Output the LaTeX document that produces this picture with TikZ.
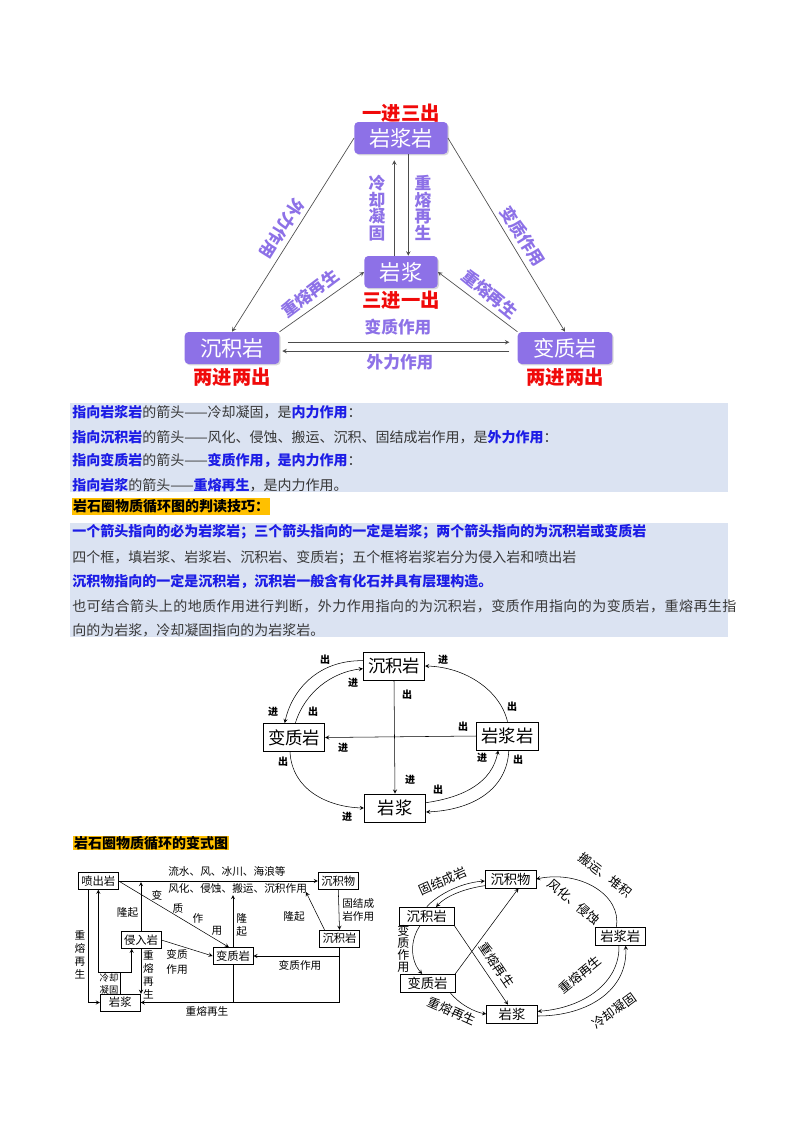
\documentclass[tikz,border=0pt]{standalone}
\usepackage{fontspec}
\setmainfont{Noto Sans CJK SC}
\usetikzlibrary{shadows}

\definecolor{rockpurple}{RGB}{141,113,231}
\definecolor{tagred}{RGB}{240,10,10}
\definecolor{notebg}{RGB}{219,227,242}
\definecolor{noteblue}{RGB}{28,28,230}
\definecolor{notegray}{RGB}{55,55,55}
\definecolor{headorange}{RGB}{255,192,0}

\newcommand{\keyword}[1]{{\bfseries\color{noteblue}#1}}

\tikzset{
  rock/.style={fill=rockpurple, rounded corners=3pt, text=white,
    font=\fontsize{16}{18}\selectfont, minimum height=24pt, inner sep=2pt,
    drop shadow={shadow xshift=1pt, shadow yshift=-1pt, opacity=0.3}},
  tagtext/.style={text=tagred, font=\bfseries\fontsize{14.5}{16}\selectfont, inner sep=0pt},
  proc/.style={text=rockpurple, font=\bfseries\fontsize{12.5}{12.5}\selectfont,
    inner sep=0pt, align=center},
  flow/.style={->, draw=black!70, line width=0.5pt},
  noteline/.style={anchor=west, inner sep=0pt, text=notegray,
    font=\fontsize{10.5}{12}\selectfont},
  cellbox/.style={draw, line width=0.6pt, font=\fontsize{13}{15}\selectfont,
    minimum width=46pt, minimum height=21pt, inner sep=1pt},
  io/.style={font=\bfseries\fontsize{7.5}{8}\selectfont, inner sep=0pt},
  smallbox/.style={draw, line width=0.5pt, font=\fontsize{8.5}{10}\selectfont,
    minimum width=30pt, minimum height=12.5pt, inner sep=1pt},
  smalltxt/.style={font=\fontsize{8}{9.75}\selectfont, inner sep=0pt, align=center},
  ovalbox/.style={draw, line width=0.5pt, font=\fontsize{10}{12}\selectfont,
    minimum width=38pt, minimum height=13.5pt, inner sep=1pt},
  ovaltxt/.style={font=\fontsize{9.5}{9.5}\selectfont, inner sep=0pt, align=center},
}

\begin{document}
\begin{tikzpicture}[x=0.75pt, y=-0.75pt, >=stealth]
  \useasboundingbox (0,0) rectangle (800,1132);

  % Triângulo do ciclo
  \node[rock, minimum width=70pt] (ycy) at (401,138) {岩浆岩};
  \node[rock, minimum width=55pt] (yj)  at (401,272) {岩浆};
  \node[rock, minimum width=71pt] (cjy) at (232,348) {沉积岩};
  \node[rock, minimum width=71pt] (bzy) at (565,348) {变质岩};

  \node[tagtext] (t1) at (401,113) {一进三出};
  \node[tagtext] (t2) at (401,300) {三进一出};
  \node[tagtext] (t3) at (232,377) {两进两出};
  \node[tagtext] (t4) at (565,377) {两进两出};

  \draw[flow] (ycy.west) -- (cjy.north);
  \draw[flow] (ycy.east) -- (bzy.north);
  \draw[flow, shorten >=4.5pt] ([xshift=-5pt]yj.north) -- ([xshift=-5pt]ycy.south);
  \draw[flow] ([xshift=5.5pt]ycy.south) -- ([xshift=5.5pt]yj.north);
  \draw[flow] (cjy.north east) -- (yj.west);
  \draw[flow] (bzy.north west) -- (yj.east);
  \draw[flow, shorten <=6pt, shorten >=6pt] ([yshift=4.3pt]cjy.east) -- ([yshift=4.3pt]bzy.west);
  \draw[flow, shorten <=6pt, shorten >=2pt] ([yshift=-2.3pt]bzy.west) -- ([yshift=-2.3pt]cjy.east);

  \node[proc, rotate=-122] (p1) at (282,229) {外力作用};
  \node[proc, rotate=-58]  (p2) at (523,236) {变质作用};
  \node[proc] (p3) at (377,208) {冷\\却\\凝\\固};
  \node[proc] (p4) at (423,208) {重\\熔\\再\\生};
  \node[proc, rotate=37]  (p5) at (310,293) {重熔再生};
  \node[proc, rotate=-39] (p6) at (490,294) {重熔再生};
  \node[proc] (p7) at (398,327) {变质作用};
  \node[proc] (p8) at (400,362) {外力作用};

  % Quadros de texto
  \fill[notebg] (70,403) rectangle (728,492);
  \node[noteline] (n1) at (72,412) {\keyword{指向岩浆岩}的箭头——冷却凝固，是\keyword{内力作用}：};
  \node[noteline] (n2) at (72,437) {\keyword{指向沉积岩}的箭头——风化、侵蚀、搬运、沉积、固结成岩作用，是\keyword{外力作用}：};
  \node[noteline] (n3) at (72,461) {\keyword{指向变质岩}的箭头——\keyword{变质作用，是内力作用}：};
  \node[noteline] (n4) at (72,485) {\keyword{指向岩浆}的箭头——\keyword{重熔再生}，是内力作用。};

  \node[fill=headorange, anchor=west, inner xsep=1pt, inner ysep=0pt, minimum height=12.75pt,
    font=\bfseries\fontsize{10.5}{12}\selectfont] (h1) at (71.5,506.7) {岩石圈物质循环图的判读技巧：};

  \fill[notebg] (70,523) rectangle (728,637);
  \node[noteline] (m1) at (72,532) {\keyword{一个箭头指向的必为岩浆岩；三个箭头指向的一定是岩浆；两个箭头指向的为沉积岩或变质岩}};
  \node[noteline] (m2) at (72,558) {四个框，填岩浆、岩浆岩、沉积岩、变质岩；五个框将岩浆岩分为侵入岩和喷出岩};
  \node[noteline] (m3) at (72,582) {\keyword{沉积物指向的一定是沉积岩，沉积岩一般含有化石并具有层理构造。}};
  \node[noteline] (m4) at (72,606) {\addfontfeature{LetterSpace=3.2}也可结合箭头上的地质作用进行判断，外力作用指向的为沉积岩，变质作用指向的为变质岩，重熔再生指};
  \node[noteline] (m5) at (72,630) {向的为岩浆，冷却凝固指向的为岩浆岩。};

  % Ciclo com entradas e saídas
  \node[cellbox] (cjy2) at (394,666)   {沉积岩};
  \node[cellbox] (bzy2) at (294,737.5) {变质岩};
  \node[cellbox] (ycy2) at (507.5,736) {岩浆岩};
  \node[cellbox] (yj2)  at (395,808)   {岩浆};

  \draw[->] (cjy2.south) -- (yj2.north);
  \draw[->] (ycy2.west) -- (bzy2.east);
  \draw[->] (ycy2.north) .. controls (500,690) and (465,667) .. (cjy2.east);
  \draw[->] ([yshift=4pt]cjy2.west) .. controls (318,660) and (292,690) .. ([xshift=-7pt]bzy2.north);
  \draw[->] ([xshift=1pt]bzy2.north) .. controls (305,692) and (332,672) .. ([yshift=-2pt]cjy2.west);
  \draw[->] ([xshift=-3pt]bzy2.south) .. controls (292,790) and (328,807) .. (yj2.west);
  \draw[->] ([yshift=4pt]yj2.east) .. controls (465,797) and (492,782) .. ([xshift=-7pt]ycy2.south);
  \draw[->] ([xshift=1pt]ycy2.south) .. controls (507,790) and (472,810) .. ([yshift=-3pt]yj2.east);

  \node[io] at (407,695) {出};  \node[io] at (410,780) {进};
  \node[io] at (463,727) {出};  \node[io] at (343,748) {进};
  \node[io] at (512,707) {出};  \node[io] at (443,660) {进};
  \node[io] at (325,660) {出};  \node[io] at (273,712) {进};
  \node[io] at (313,712) {出};  \node[io] at (353,683) {进};
  \node[io] at (283,762) {出};  \node[io] at (347,817) {进};
  \node[io] at (438,790) {出};  \node[io] at (482,758) {进};
  \node[io] at (518,760) {出};

  \node[fill=headorange, anchor=west, inner xsep=1pt, inner ysep=0pt, minimum height=10pt,
    font=\bfseries\fontsize{10.5}{12}\selectfont] (h2) at (72.5,843.3) {岩石圈物质循环的变式图};

  % Variante com cinco quadros
  \node[smallbox] (pcy)  at (98.3,881)   {喷出岩};
  \node[smallbox] (cjw)  at (338.3,881)  {沉积物};
  \node[smallbox] (cjy3) at (339.5,938.5){沉积岩};
  \node[smallbox] (qry)  at (141,940)    {侵入岩};
  \node[smallbox] (bzy3) at (233,956)    {变质岩};
  \node[smallbox] (yj3)  at (120.3,1002.5){岩浆};

  \coordinate (lq1) at (306,892);
  \coordinate (lq2) at (141,882);
  \coordinate (lq3) at (233,895);

  \draw[->] (pcy.east) -- (cjw.west);
  \draw[->] (cjw.south) -- (cjy3.north);
  \draw[->] ([xshift=4pt]cjy3.north west) -- (lq1);
  \draw[->] (pcy.east) -- ([xshift=-3pt]bzy3.north);
  \draw[->] (qry.north) -- (lq2);
  \draw[->] (bzy3.north) -- (lq3);
  \draw[->] (qry.east) -- (bzy3.west);
  \draw[->] (qry.south) -- (qry.south |- yj3.north);
  \draw (yj3.north) -- ++(0,-22) coordinate (lqn);
  \draw[->] (lqn) -| (pcy.south);
  \draw[->] (lqn) -| ([xshift=-7pt]qry.south);
  \draw[->] ([xshift=-7.5pt]pcy.south) |- (yj3.west);
  \draw[->] (cjy3.south) |- (yj3.east);
  \draw[->] (cjy3.south |- bzy3.east) -- (bzy3.east);
  \draw (bzy3.south) -- (bzy3.south |- yj3.east);

  \node[smalltxt, anchor=west] at (168,871) {流水、风、冰川、海浪等};
  \node[smalltxt, anchor=west] at (168,888.5) {风化、侵蚀、搬运、沉积作用};
  \node[smalltxt, anchor=west, align=left] at (342,910) {固结成\\岩作用};
  \node[smalltxt] at (294,916) {隆起};
  \node[smalltxt] at (127.5,912) {隆起};
  \node[smalltxt] at (241.7,925) {隆\\起};
  \node[smalltxt] at (157,895) {变};
  \node[smalltxt] at (178,908) {质};
  \node[smalltxt] at (198,918.5) {作};
  \node[smalltxt] at (217,931) {用};
  \node[smalltxt, font=\fontsize{8}{11}\selectfont] at (177,962) {变质\\作用};
  \node[smalltxt] at (80,955) {重\\熔\\再\\生};
  \node[smalltxt] at (148.5,974.5) {重\\熔\\再\\生};
  \node[smalltxt, font=\fontsize{7}{8.5}\selectfont] at (109,984) {冷却\\凝固};
  \node[smalltxt] at (300,965) {变质作用};
  \node[smalltxt] at (207,1011) {重熔再生};

  % Variante em elipse
  \node[ovalbox] (cjw4) at (510.5,879)  {沉积物};
  \node[ovalbox, minimum width=41pt] (cjy4) at (426.7,916.3) {沉积岩};
  \node[ovalbox] (ycy4) at (620.3,936.3) {岩浆岩};
  \node[ovalbox, minimum width=41pt] (bzy4) at (427.5,983.3) {变质岩};
  \node[ovalbox] (yj4)  at (512,1014)   {岩浆};

  \draw[->] (cjy4.north) .. controls (435,897) and (458,883) .. ([yshift=-1.5pt]cjw4.west);
  \draw[->] ([yshift=-5pt]cjw4.west) .. controls (462,889) and (445,897) .. ([xshift=7pt]cjy4.north);
  \draw[->] ([xshift=-5pt]cjy4.south) .. controls (410,940) and (410,960) .. ([xshift=-4pt]bzy4.north);
  \draw[->] (bzy4.north east) -- ([xshift=6pt]cjw4.south);
  \draw[->] (cjy4.south east) -- ([xshift=-3pt]yj4.north);
  \draw[->] ([xshift=17pt]bzy4.south) .. controls (460,1005) and (475,1012) .. (yj4.west);
  \draw[->] ([xshift=-3pt]ycy4.north) .. controls (622,895) and (580,870) .. (cjw4.east);
  \draw[->] ([xshift=-1pt]ycy4.south) .. controls (620,983) and (583,1008) .. ([yshift=2pt]yj4.east);
  \draw[->] ([yshift=-1.5pt]yj4.east) .. controls (588,1016) and (628,990) .. ([xshift=4pt]ycy4.south);

  \node[ovaltxt, rotate=24]  at (443,881) {固结成岩};
  \node[ovaltxt, font=\fontsize{9}{9}\selectfont] at (403.3,949) {变\\质\\作\\用};
  \node[ovaltxt, rotate=-56] at (497,965) {重熔再生};
  \node[ovaltxt, rotate=-24] at (452,1011) {重熔再生};
  \node[ovaltxt, rotate=-38] at (605,875) {搬运、堆积};
  \node[ovaltxt, rotate=-40] at (574,902) {风化、侵蚀};
  \node[ovaltxt, rotate=39]  at (580,975) {重熔再生};
  \node[ovaltxt, rotate=36]  at (614,1011) {冷却凝固};

\end{tikzpicture}
\end{document}
